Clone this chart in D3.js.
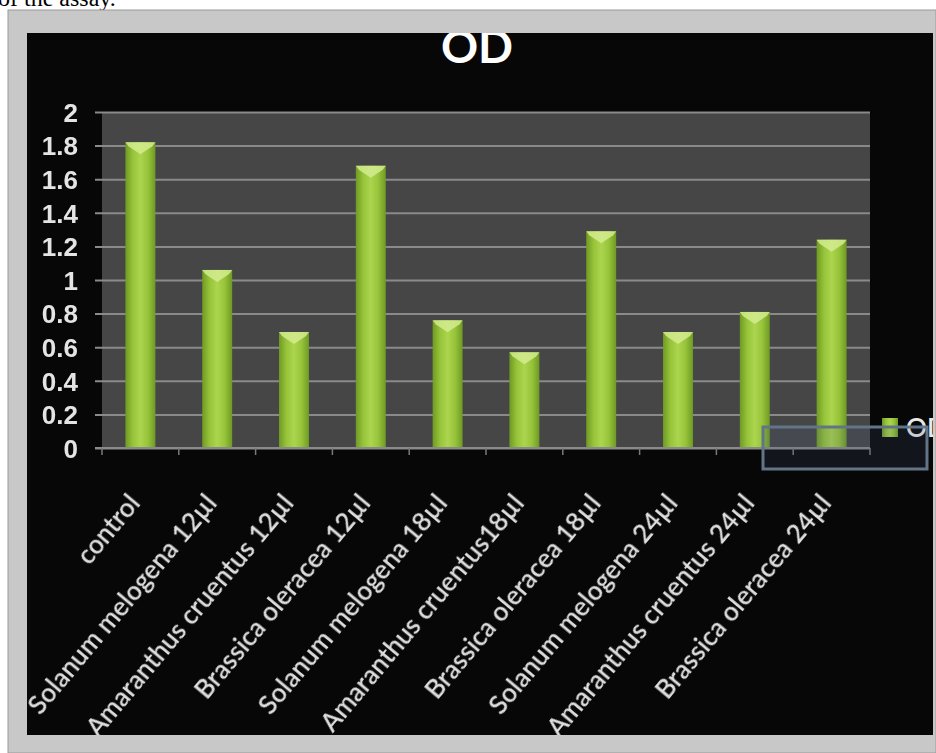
<!DOCTYPE html>
<html>
<head>
<meta charset="utf-8">
<script src="https://cdn.jsdelivr.net/npm/d3@7"></script>
<style>
  body { margin: 0; background: #ffffff; }
  svg { display: block; }
</style>
</head>
<body>
<div id="my_barchart"></div>
<script>
// data
var categories = ["control", "Solanum melogena 12µl", "Amaranthus cruentus 12µl", "Brassica oleracea 12µl",
  "Solanum melogena 18µl", "Amaranthus cruentus18µl", "Brassica oleracea 18µl",
  "Solanum melogena 24µl", "Amaranthus cruentus 24µl", "Brassica oleracea 24µl"];
var odValues = [1.82, 1.06, 0.69, 1.68, 0.76, 0.57, 1.29, 0.69, 0.81, 1.24];
var yTicks = [0, 0.2, 0.4, 0.6, 0.8, 1, 1.2, 1.4, 1.6, 1.8, 2];
var seriesName = "OD";
var titleText = "OD";

var svg, x, y, width, height, margin;
initBarChart();

/**
 * Draw the whole chart
 */
function initBarChart()
{
  var fullW = 936, fullH = 753;
  margin = {top: 112, left: 102};
  width = 768;
  height = 336;

  svg = d3.select("#my_barchart")
    .append("svg")
    .attr("width", fullW)
    .attr("height", fullH)
    .style("font-family", "Lato, 'Open Sans', sans-serif");

  var defs = svg.append("defs");
  var grad = defs.append("linearGradient").attr("id", "barGrad")
    .attr("x1", "0%").attr("x2", "100%").attr("y1", "0%").attr("y2", "0%");
  grad.append("stop").attr("offset", "0%").attr("stop-color", "#6f9a24");
  grad.append("stop").attr("offset", "25%").attr("stop-color", "#97c43a");
  grad.append("stop").attr("offset", "50%").attr("stop-color", "#abd54e");
  grad.append("stop").attr("offset", "75%").attr("stop-color", "#97c43a");
  grad.append("stop").attr("offset", "100%").attr("stop-color", "#6f9a24");

  // soft glow for the light texts
  var glow = defs.append("filter").attr("id", "soft");
  glow.append("feGaussianBlur").attr("stdDeviation", 0.5);

  defs.append("clipPath").attr("id", "innerClip")
    .append("rect").attr("x", 27).attr("y", 33).attr("width", 906).attr("height", 702);

  // the cut off sentence above the picture
  svg.append("text")
    .attr("x", -2).attr("y", 6)
    .style("font-family", "'Liberation Serif', serif")
    .style("font-size", "24px")
    .attr("fill", "#000")
    .text("of the assay.");

  // grey frame and black chart area
  svg.append("rect")
    .attr("x", 8).attr("y", 10).attr("width", 928).attr("height", 743)
    .attr("fill", "#c8c8c8")
    .attr("stroke", "#9a9a9a").attr("stroke-width", 1);
  var chart = svg.append("g").attr("clip-path", "url(#innerClip)");
  chart.append("rect")
    .attr("x", 27).attr("y", 33).attr("width", 906).attr("height", 702)
    .attr("fill", "#070707");

  // title
  chart.append("text")
    .attr("x", 477).attr("y", 63)
    .attr("text-anchor", "middle")
    .attr("fill", "#ffffff")
    .style("font-size", "46px")
    .style("font-weight", "bold")
    .text(titleText);

  var g = chart.append("g")
    .attr("transform", "translate(" + margin.left + "," + margin.top + ")");

  // plot area
  g.append("rect")
    .attr("width", width).attr("height", height)
    .attr("fill", "#464646");

  // X scale
  x = d3.scaleBand()
    .range([0, width])
    .domain(categories)
    .paddingInner(0.61)
    .paddingOuter(0.305);

  // Y scale
  y = d3.scaleLinear()
    .domain([0, 2])
    .range([height, 0]);

  // gridlines + y axis
  var yAxis = g.append("g")
    .call(d3.axisLeft(y).tickValues(yTicks).tickSize(-width - 7).tickFormat(d3.format("")).tickPadding(17))
    .attr("transform", "translate(-7,0)");
  yAxis.select(".domain").remove();
  yAxis.selectAll(".tick line")
    .attr("x1", 0).attr("x2", width + 7)
    .attr("stroke", "#8a8a8a").attr("stroke-width", 2);
  yAxis.selectAll(".tick text")
    .attr("fill", "#e4e4e4")
    .attr("filter", "url(#soft)")
    .style("font-size", "26px")
    .style("font-weight", "600")
    .attr("dy", "0.36em");

  // bars
  var bars = g.selectAll(".bar").data(odValues).enter().append("g").attr("class", "bar");
  bars.append("rect")
    .attr("x", function(d, i) { return x(categories[i]); })
    .attr("y", function(d) { return y(d); })
    .attr("width", x.bandwidth())
    .attr("height", function(d) { return height - y(d); })
    .attr("fill", "url(#barGrad)");
  // light cap on top of each bar
  bars.append("path")
    .attr("d", function(d, i) {
      var x0 = x(categories[i]), x1 = x0 + x.bandwidth(), yt = y(d);
      return "M" + x0 + "," + yt + "L" + x1 + "," + yt + "L" + (x1 - 3) + "," + (yt + 4) +
        "L" + (x0 + x.bandwidth() / 2) + "," + (yt + 12) + "L" + (x0 + 3) + "," + (yt + 4) + "Z";
    })
    .attr("fill", "#d3ec8f")
    .attr("opacity", 0.85);

  // x axis line and ticks at the category boundaries
  var step = x.step(), gap = (x.step() - x.bandwidth()) / 2;
  var bounds = categories.map(function(c) { return x(c) - gap; }).concat([x(categories[categories.length - 1]) - gap + step]);
  g.append("line")
    .attr("x1", -7).attr("x2", width)
    .attr("y1", height).attr("y2", height)
    .attr("stroke", "#8a8a8a").attr("stroke-width", 2);
  g.selectAll(".xtick").data(bounds).enter().append("line")
    .attr("x1", function(d) { return d; }).attr("x2", function(d) { return d; })
    .attr("y1", height).attr("y2", height + 7)
    .attr("stroke", "#7a7a7a").attr("stroke-width", 1.5);

  // rotated category labels
  g.selectAll(".xlabel").data(categories).enter().append("text")
    .attr("text-anchor", "end")
    .attr("transform", function(d) {
      return "translate(" + (x(d) + x.bandwidth() / 2 + 1) + "," + (height + 56) + ") rotate(-50)";
    })
    .attr("fill", "#dedede")
    .attr("filter", "url(#soft)")
    .style("font-size", "26px")
    .style("font-weight", "600")
    .text(function(d) { return d; });

  // legend
  chart.append("rect")
    .attr("x", 882).attr("y", 418).attr("width", 16).attr("height", 19)
    .attr("fill", "url(#barGrad)");
  chart.append("text")
    .attr("x", 906).attr("y", 437)
    .attr("fill", "#e8e8e8")
    .style("font-size", "26px")
    .style("font-weight", "600")
    .text(seriesName);

  // selection box left on the legend
  chart.append("rect")
    .attr("x", 763).attr("y", 427).attr("width", 164).attr("height", 42)
    .attr("fill", "rgba(70,95,125,0.18)")
    .attr("stroke", "#627487").attr("stroke-width", 3);
}
</script>
</body>
</html>
